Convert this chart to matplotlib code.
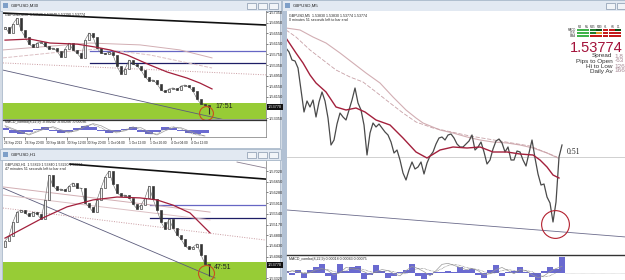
import matplotlib
matplotlib.use('Agg')
import matplotlib.pyplot as plt
from matplotlib.patches import Rectangle

plt.rcParams['font.family'] = ['Liberation Sans', 'DejaVu Sans']

W, H = 625, 280

# ---------------- GBPUSD,M30 (top left window) ----------------
m30_first_open = 1.5670
m30_close = [1.5678, 1.5656, 1.5690, 1.5712, 1.5667, 1.5641, 1.5614, 1.5603, 1.5618, 1.5622,
             1.5607, 1.5596, 1.5599, 1.5588, 1.5565, 1.5596, 1.5618, 1.5592, 1.5580, 1.5562,
             1.5629, 1.5656, 1.5641, 1.5599, 1.5580, 1.5577, 1.5584, 1.5573, 1.5531, 1.5501,
             1.5520, 1.5554, 1.5539, 1.5531, 1.5516, 1.5490, 1.5475, 1.5479, 1.5464, 1.5441,
             1.5433, 1.5445, 1.5449, 1.5441, 1.5456, 1.5460, 1.5452, 1.5437, 1.5407, 1.5388,
             1.5384, 1.5377]
m30_last_low = 1.5350
m30_red_ma_x = [0, 6.25, 11.25, 18, 22.5, 26.25, 30.5, 36.25, 40.5, 45.5, 48.75, 51.75]
m30_red_ma = [1.5629, 1.5633, 1.5618, 1.5614, 1.5603, 1.5592, 1.5573, 1.5535, 1.5509, 1.5486, 1.5467, 1.5445]
m30_pink_ma_x = [-0.5, 21.25, 33.75, 43.75, 51.75]
m30_pink_ma = [1.5592, 1.5618, 1.5611, 1.5592, 1.5562]
m30_pink2_x = [-0.5, 13.75, 23.75, 36.25, 51.75]
m30_pink2 = [1.5562, 1.5584, 1.5596, 1.5573, 1.5524]
m30_trend_top = [1.5731, 1.5686]      # at bars -0.5 / 65.25
m30_trend_low = [1.5516, 1.5328]      # at bars -0.5 / 55
m30_dotted = [1.5543, 1.5498]         # at bars -0.5 / 65.25
m30_levels = [1.5588, 1.5543]
m30_zone = [1.5300, 1.5392]
m30_ticks = [1.5735, 1.5695, 1.5655, 1.5615, 1.5575, 1.5535, 1.5495, 1.5455, 1.5415, 1.5335]
m30_macd_hist = [2, -3, -4, -2, 1, 3, -1, -3, -2, 2, 4, 3, -1, -3, -2, 1, 3, -2, -4, -2, 3, 2, -1, -3, -4, -3]
m30_macd_main = [4, 1, -2, -5, -2, 1, 3, 0, -2, -1, 3, 6, 4, 0, -2, -1, 2, 2, -2, -5, -1, 2, 2, -1, -4, -6]
m30_macd_sig = [3, 0, -3, -4, -1, 2, 2, -2, -3, 0, 4, 5, 2, -2, -3, 0, 3, 0, -4, -4, 1, 3, 1, -3, -5, -6]
m30_time_x = [-0.3, 5.0, 10.2, 15.4, 20.6, 25.8, 31.0, 36.2, 41.4, 46.6]
m30_time_labels = ['26 Sep 2013', '26 Sep 20:00', '30 Sep 04:00', '30 Sep 12:00', '30 Sep 20:00',
                   '1 Oct 04:00', '1 Oct 12:00', '1 Oct 20:00', '4 Oct 04:00', '4 Oct 12:00']

# ---------------- GBPUSD,H1 (bottom left window) ----------------
h1_first_open = 1.5440
h1_close = [1.5460, 1.5477, 1.5526, 1.5560, 1.5567, 1.5557, 1.5546, 1.5560, 1.5553, 1.5536,
            1.5602, 1.5688, 1.5650, 1.5636, 1.5640, 1.5633, 1.5650, 1.5661, 1.5643, 1.5643,
            1.5591, 1.5578, 1.5560, 1.5602, 1.5643, 1.5681, 1.5702, 1.5657, 1.5626, 1.5616,
            1.5619, 1.5609, 1.5588, 1.5571, 1.5584, 1.5609, 1.5650, 1.5605, 1.5567, 1.5526,
            1.5501, 1.5536, 1.5505, 1.5481, 1.5467, 1.5443, 1.5432, 1.5439, 1.5450, 1.5412,
            1.5380, 1.5377]
h1_last_low = 1.5338
h1_red_ma_x = [0, 9.5, 15.5, 22, 28, 33.75, 38, 42, 46.25, 51.25]
h1_red_ma = [1.5470, 1.5540, 1.5578, 1.5602, 1.5612, 1.5609, 1.5602, 1.5584, 1.5557, 1.5488]
h1_pink_ma = [1.5647, 1.5560]         # at bars -0.5 / 51.25
h1_pink2 = [1.5619, 1.5533]
h1_dotted = [1.5574, 1.5463]          # at bars -0.5 / 65.25
h1_trend_top = [1.5726, 1.5674]       # at bars 16.25 / 65.25
h1_trend_grey = [1.5733, 1.5712]      # at bars 58 / 65.25
h1_trend_low = [1.5643, 1.5332]       # at bars -0.5 / 52.5
h1_levels = [1.5584, 1.5540]
h1_zone = [1.5200, 1.5387]
h1_ticks = [1.5702, 1.5665, 1.5628, 1.5591, 1.5554, 1.5517, 1.5480, 1.5443, 1.5406, 1.5332]

# ---------------- GBPUSD,M5 (right window) ----------------
m5_close = [1.5486, 1.5482, 1.5474, 1.5473, 1.5466, 1.5444, 1.5422, 1.5433, 1.5427, 1.5434,
            1.5417, 1.5432, 1.5442, 1.5433, 1.5416, 1.5389, 1.5394, 1.5410, 1.5421, 1.5417,
            1.5414, 1.5424, 1.5434, 1.5446, 1.5431, 1.5424, 1.5409, 1.5379, 1.5401, 1.5411,
            1.5407, 1.5410, 1.5406, 1.5402, 1.5399, 1.5392, 1.5381, 1.5384, 1.5374, 1.5361,
            1.5354, 1.5364, 1.5372, 1.5365, 1.5367, 1.5372, 1.5360, 1.5371, 1.5378, 1.5382,
            1.5390, 1.5396, 1.5397, 1.5394, 1.5399, 1.5400, 1.5396, 1.5390, 1.5387, 1.5387,
            1.5390, 1.5393, 1.5399, 1.5384, 1.5387, 1.5392, 1.5382, 1.5370, 1.5374, 1.5385,
            1.5393, 1.5395, 1.5391, 1.5382, 1.5387, 1.5374, 1.5374, 1.5383, 1.5382, 1.5374,
            1.5368, 1.5381, 1.5394, 1.5376, 1.5360, 1.5349, 1.5350, 1.5337, 1.5331, 1.5312,
            1.5332, 1.5377, 1.5389]
m5_red_ma_x = [0, 3.33, 5.67, 8, 10, 13.33, 16.67, 20, 23.33, 26.33, 30, 34.67, 39, 43.33,
               47, 51.33, 55.67, 60.33, 64.67, 69, 73.67, 78, 82.33, 84.67, 87, 89, 91]
m5_red_ma = [1.5496, 1.5481, 1.5471, 1.5459, 1.5451, 1.5442, 1.5427, 1.5424, 1.5426, 1.5422,
             1.5414, 1.5409, 1.5396, 1.5382, 1.5376, 1.5384, 1.5387, 1.5386, 1.5387, 1.5382,
             1.5382, 1.5380, 1.5379, 1.5374, 1.5367, 1.5359, 1.5356]
m5_pink_ma_x = [0, 4.67, 9, 13.33, 18, 22.33, 26.67, 31.33, 35.67, 40, 43.33, 45.67, 51.33,
                55.67, 60.33, 64.67, 69, 73.67, 78, 82.33, 87, 90.67]
m5_pink_ma = [1.5506, 1.5504, 1.5497, 1.5491, 1.5481, 1.5471, 1.5461, 1.5451, 1.5437, 1.5424,
              1.5416, 1.5411, 1.5404, 1.5401, 1.5397, 1.5394, 1.5392, 1.5391, 1.5389, 1.5386,
              1.5381, 1.5376]
m5_pink2_x = [0, 3.33, 8, 12.33, 16.67, 21.33, 25.67, 30, 34.67, 39, 43.33, 49, 53.67,
              61.33, 71.33, 81.33, 90.33]
m5_pink2 = [1.5504, 1.5497, 1.5484, 1.5474, 1.5464, 1.5457, 1.5452, 1.5442, 1.5431, 1.5421,
            1.5412, 1.5406, 1.5403, 1.5398, 1.5393, 1.5388, 1.5377]
m5_trend = [1.5324, 1.5297]           # at bars 0.33 / 113
m5_bid = 1.5377
m5_low_bar, m5_low = 89.67, 1.5310
m5_macd_hist = [2, -2, 3, -5, 3, 5, 8, -3, -7, 8, 2, 5, 6, -6, -2, 7, 2, -5, -3, 1, 3, 8, -3, -6,
                -2, 1, 0.5, 2, 1, 5, 3, 4, -2, -5, 3, 7, -3, 1, 2, 5, 1, -4, -8, 2, 5, 4, 15]
m5_macd_main = [0, 2, 1, -1, 0, 3, 4, 2, -2, 0, 5, 4, 3, 1, -2, 1, 3, 2, -1, -3, 2, 6, 4, 1,
                -3, 2, 8, 9, 7, 5, 3, 4, 2, -2, -1, 3, 5, 2, -1, 3, 2, -2, -5, -3, 1, 4, 6]
m5_macd_sig = [1, 1, 1, 0, 0, 1, 3, 3, 1, 0, 2, 4, 4, 3, 1, 0, 1, 2, 1, -1, -1, 2, 4, 4,
               2, 1, 4, 7, 8, 7, 5, 4, 3, 1, -1, 0, 2, 3, 2, 1, 2, 1, -2, -4, -3, 0, 3]

# info panel
tf_cols = ['M1', 'M5', 'M15', 'M30', 'H1', 'H4', 'D1']
ind_rows = ['MACD', 'STR', 'EMA']
G, DG, VG, R, O = '#3fb34a', '#1f7a2a', '#0c4f14', '#c41a1a', '#e79a2c'
signal_colors = [[G, G, DG, VG, R, R, VG],
                 [G, G, DG, O, R, R, R],
                 [G, G, R, R, R, R, R]]
big_price = '1.53774'
stat_names = ['Spread', 'Pips to Open', 'Hi to Low', 'Daily Av']
stat_values = ['1.8', '-63', '126', '166']

fig = plt.figure(figsize=(6.25, 2.8), dpi=100, facecolor='#d3dbe5')


def px_axes(x0, y0, x1, y1, **kw):
    return fig.add_axes([x0 / W, 1 - y1 / H, (x1 - x0) / W, (y1 - y0) / H], **kw)


# window chrome
bg = px_axes(0, 0, W, H)
bg.set_xlim(0, W)
bg.set_ylim(H, 0)
bg.axis('off')
for (x0, y0, x1, title) in [(0, 0, 281, 'GBPUSD,M30'), (0, 149, 281, 'GBPUSD,H1'), (282, 0, 640, 'GBPUSD,M5')]:
    bg.add_patch(Rectangle((x0, y0), x1 - x0, 11, fc='#e2e9f2', ec='#9fb0c4', lw=0.5))
    bg.add_patch(Rectangle((x0 + 3, y0 + 3), 5, 5, fc='#7e9fc8', ec='none'))
    bg.text(x0 + 11, y0 + 5.5, title, fontsize=3.2, va='center', color='#222')
    for bx in [x1 - 34, x1 - 23, x1 - 12]:
        bg.add_patch(Rectangle((bx, y0 + 2.5), 9, 6, fc='#f1f4f8', ec='#8797ad', lw=0.5))
bg.add_patch(Rectangle((2, 11), 278, 137, fc='white', ec='#9fb0c4', lw=0.5))
bg.add_patch(Rectangle((2, 160), 278, 125, fc='white', ec='#9fb0c4', lw=0.5))
bg.add_patch(Rectangle((282, 11), 5, 275, fc='#b2c1d4', ec='none'))
bg.add_patch(Rectangle((287, 11), 345, 275, fc='white', ec='none'))


def candles(ax, first_open, closes):
    opens = [first_open] + closes[:-1]
    xs = list(range(len(closes)))
    lo = [min(o, c) for o, c in zip(opens, closes)]
    hgt = [abs(c - o) for o, c in zip(opens, closes)]
    cols = ['#f2f2f2' if c >= o else '#333333' for o, c in zip(opens, closes)]
    ax.plot(xs, closes, color='#666666', lw=0.4, zorder=3)
    ax.bar(xs, hgt, bottom=lo, width=0.45, color=cols, edgecolor='#333333', linewidth=0.45, zorder=4)


def price_scale(ax, ticks, current):
    ax.yaxis.tick_right()
    ax.set_yticks(ticks)
    ax.set_yticklabels([f'{t:.5f}' for t in ticks])
    ax.tick_params(axis='y', labelsize=2.8, length=1.5, pad=0.6, colors='#222', width=0.4)
    ax.set_xticks([])
    ax.annotate(f'{current:.5f}', xy=(1, current), xycoords=('axes fraction', 'data'),
                xytext=(1.2, 0), textcoords='offset points', ha='left', va='center',
                fontsize=2.8, color='white', annotation_clip=False,
                bbox=dict(boxstyle='square,pad=0.25', fc='#111', ec='none'))
    for s in ax.spines.values():
        s.set_color('#777')
        s.set_linewidth(0.5)
    ax.spines['top'].set_visible(False)
    ax.spines['left'].set_visible(False)


# ---------- top left: M30 ----------
ax1 = px_axes(3, 11, 266, 119)
ax1.set_xlim(-0.5, 65.25)
ax1.set_ylim(1.53316, 1.57388)
ax1.axhspan(m30_zone[0], m30_zone[1], color='#97cc36', lw=0, zorder=1)
ax1.plot([-0.5, 65.25], m30_trend_top, color='#111', lw=1.2, zorder=2)
ax1.plot([-0.5, 55], m30_trend_low, color='#5c5c7c', lw=0.6, zorder=2)
ax1.plot([-0.5, 65.25], m30_dotted, color='#c99aa0', lw=0.7, ls=(0, (1, 1.5)), zorder=2)
ax1.plot([21.25, 65.25], [m30_levels[0]] * 2, color='#6666c4', lw=0.9, zorder=2)
ax1.plot([21.25, 65.25], [m30_levels[1]] * 2, color='#1d1d66', lw=0.9, zorder=2)
ax1.plot(m30_pink_ma_x, m30_pink_ma, color='#d2aeb3', lw=0.7, zorder=2)
ax1.plot(m30_pink2_x, m30_pink2, color='#dcc0c4', lw=0.7, ls=(0, (4, 1.5)), zorder=2)
ax1.plot(m30_red_ma_x, m30_red_ma, color='#a3203c', lw=0.9, zorder=5)
candles(ax1, m30_first_open, m30_close)
ax1.vlines(len(m30_close) - 1, m30_last_low, m30_close[-1], color='#2e2e2e', lw=0.8, zorder=4)
ax1.plot([len(m30_close) - 1.7], [1.5355], marker='o', ms=10, mfc='none', mec='#c8501e', mew=0.8, zorder=6)
ax1.text(len(m30_close) + 0.6, m30_close[-1], '17:51', fontsize=5, va='center', color='#222', zorder=6)
ax1.text(0.008, 0.985, 'GBPUSD,M30  1.53529 1.53840 1.53290 1.53774', transform=ax1.transAxes,
         fontsize=2.6, va='top', color='#222')
price_scale(ax1, m30_ticks, m30_close[-1])

ax1m = px_axes(3, 119.5, 266, 137)
ax1m.set_xlim(-0.5, 65.25)
ax1m.set_ylim(-7, 10)
mx = list(range(0, 2 * len(m30_macd_hist), 2))
ax1m.bar(mx, m30_macd_hist, width=2, color='#6a6ad0', lw=0)
ax1m.plot(mx, m30_macd_main, color='#999', lw=0.5)
ax1m.plot(mx, m30_macd_sig, color='#777', lw=0.5, ls=(0, (1, 1)))
ax1m.text(0.008, 0.95, 'MACD_combo(8,22,9) -0.00242 -0.00206 -0.00036', transform=ax1m.transAxes,
          fontsize=2.6, va='top', color='#222')
ax1m.set_yticks([])
ax1m.set_xticks(m30_time_x)
ax1m.set_xticklabels(m30_time_labels, ha='left')
ax1m.tick_params(axis='x', labelsize=2.3, length=2, pad=1, width=0.4, colors='#222')
for s in ax1m.spines.values():
    s.set_color('#777')
    s.set_linewidth(0.5)
ax1m.spines['top'].set_color('#333')
ax1m.spines['top'].set_linewidth(0.9)
ax1m.spines['left'].set_visible(False)

# ---------- bottom left: H1 ----------
ax2 = px_axes(3, 161, 266, 280)
ax2.set_xlim(-0.5, 65.25)
ax2.set_ylim(1.53251, 1.57366)
ax2.axhspan(h1_zone[0], h1_zone[1], color='#97cc36', lw=0, zorder=1)
ax2.plot([16.25, 65.25], h1_trend_top, color='#111', lw=1.2, zorder=2)
ax2.plot([58, 65.25], h1_trend_grey, color='#8a7f90', lw=0.6, zorder=2)
ax2.plot([-0.5, 52.5], h1_trend_low, color='#5c5c7c', lw=0.6, zorder=2)
ax2.plot([-0.5, 65.25], h1_dotted, color='#c99aa0', lw=0.7, ls=(0, (1, 1.5)), zorder=2)
ax2.plot([36.25, 65.25], [h1_levels[0]] * 2, color='#6666c4', lw=0.9, zorder=2)
ax2.plot([36.25, 65.25], [h1_levels[1]] * 2, color='#1d1d66', lw=0.9, zorder=2)
ax2.plot([-0.5, 51.25], h1_pink_ma, color='#d2aeb3', lw=0.7, zorder=2)
ax2.plot([-0.5, 51.25], h1_pink2, color='#dcc0c4', lw=0.7, zorder=2)
ax2.plot(h1_red_ma_x, h1_red_ma, color='#a3203c', lw=0.9, zorder=5)
candles(ax2, h1_first_open, h1_close)
ax2.vlines(len(h1_close) - 1, h1_last_low, h1_close[-1], color='#2e2e2e', lw=0.8, zorder=4)
ax2.plot([len(h1_close) - 1.7], [1.5349], marker='o', ms=11.5, mfc='none', mec='#c8501e', mew=0.8, zorder=6)
ax2.text(len(h1_close) + 0.3, 1.5370, '47:51', fontsize=5, va='center', color='#222', zorder=6)
ax2.text(0.008, 0.985, 'GBPUSD,H1  1.53829 1.53840 1.53290 1.53774\n47 minutes 51 seconds left to bar end',
         transform=ax2.transAxes, fontsize=2.6, va='top', color='#222', linespacing=1.1)
price_scale(ax2, h1_ticks, h1_close[-1])

# ---------- right: M5 ----------
ax3 = px_axes(287, 11, 626, 255)
ax3.set_xlim(0.33, 113.33)
ax3.set_ylim(1.5279, 1.5523)
ax3.axhline(m5_bid, color='#c9c9c9', lw=0.6, zorder=1)
ax3.plot([0.33, 113.33], m5_trend, color='#6c6c8c', lw=0.6, zorder=2)
ax3.plot(m5_pink_ma_x, m5_pink_ma, color='#d2aeb3', lw=0.8, zorder=2)
ax3.plot(m5_pink2_x, m5_pink2, color='#c7a0a6', lw=0.6, ls=(0, (5, 2)), zorder=2)
ax3.plot(range(len(m5_close)), m5_close, color='#4a4a4a', lw=0.9, zorder=3)
ax3.plot(m5_red_ma_x, m5_red_ma, color='#a3203c', lw=1.0, zorder=4)
ax3.plot([m5_low_bar], [m5_low], marker='o', ms=20, mfc='none', mec='#b3202e', mew=0.8, zorder=5)
ax3.text(len(m5_close) + 0.5, 1.5382, '0:51', fontsize=5.5, family='Liberation Serif',
         va='center', color='#222', zorder=5)
ax3.text(0.005, 0.99, 'GBPUSD,M5  1.53830 1.53830 1.53774 1.53774\n0 minutes 51 seconds left to bar end',
         transform=ax3.transAxes, fontsize=2.6, va='top', color='#222', linespacing=1.1)
ax3.set_xticks([])
ax3.set_yticks([])
for s in ax3.spines.values():
    s.set_visible(False)

ax3m = px_axes(287, 255, 626, 281)
ax3m.set_xlim(0.33, 113.33)
ax3m.set_ylim(-8, 17)
mx = list(range(0, 2 * len(m5_macd_hist), 2))
ax3m.bar(mx, m5_macd_hist, width=2, color='#6a6ad0', lw=0)
ax3m.plot(mx, m5_macd_main, color='#999', lw=0.5)
ax3m.plot(mx, m5_macd_sig, color='#777', lw=0.5, ls=(0, (1, 1)))
ax3m.axhline(0, xmin=0.82, color='#bbb', lw=0.4, ls=(0, (1, 1)))
ax3m.text(0.005, 0.93, 'MACD_combo(8,22,9) 0.00018 0.00043 0.00075', transform=ax3m.transAxes,
          fontsize=2.6, va='top', color='#222')
ax3m.set_xticks([])
ax3m.set_yticks([])
for s in ax3m.spines.values():
    s.set_visible(False)
ax3m.spines['top'].set_visible(True)
ax3m.spines['top'].set_color('#333')
ax3m.spines['top'].set_linewidth(1.0)

# ---------- info panel (overlay) ----------
fg = px_axes(0, 0, W, H, facecolor='none')
fg.set_xlim(0, W)
fg.set_ylim(H, 0)
fg.axis('off')
cw, ch = 6.4, 2.9
for j, name in enumerate(tf_cols):
    fg.text(577 + j * cw + cw / 2, 27, name, fontsize=2.0, ha='center', va='center', color='#333')
for i, row in enumerate(ind_rows):
    fg.text(576, 30 + i * ch, row, fontsize=2.0, ha='right', va='center', color='#333')
    for j, c in enumerate(signal_colors[i]):
        fg.add_patch(Rectangle((577 + j * cw, 28.7 + i * ch), cw - 0.6, ch - 0.5, fc=c, ec='none'))
fg.text(623, 51.5, big_price, fontsize=10.5, ha='right', va='baseline', color='#a3123a')
for i, (n, v) in enumerate(zip(stat_names, stat_values)):
    fg.text(612.5, 56 + i * 5, n, fontsize=4.6, ha='right', va='center', color='#333')
    fg.text(614.5, 56 + i * 5, v, fontsize=4.6, ha='left', va='center', color='#a88a96')

fig.savefig('out.png', dpi=100, facecolor=fig.get_facecolor())
